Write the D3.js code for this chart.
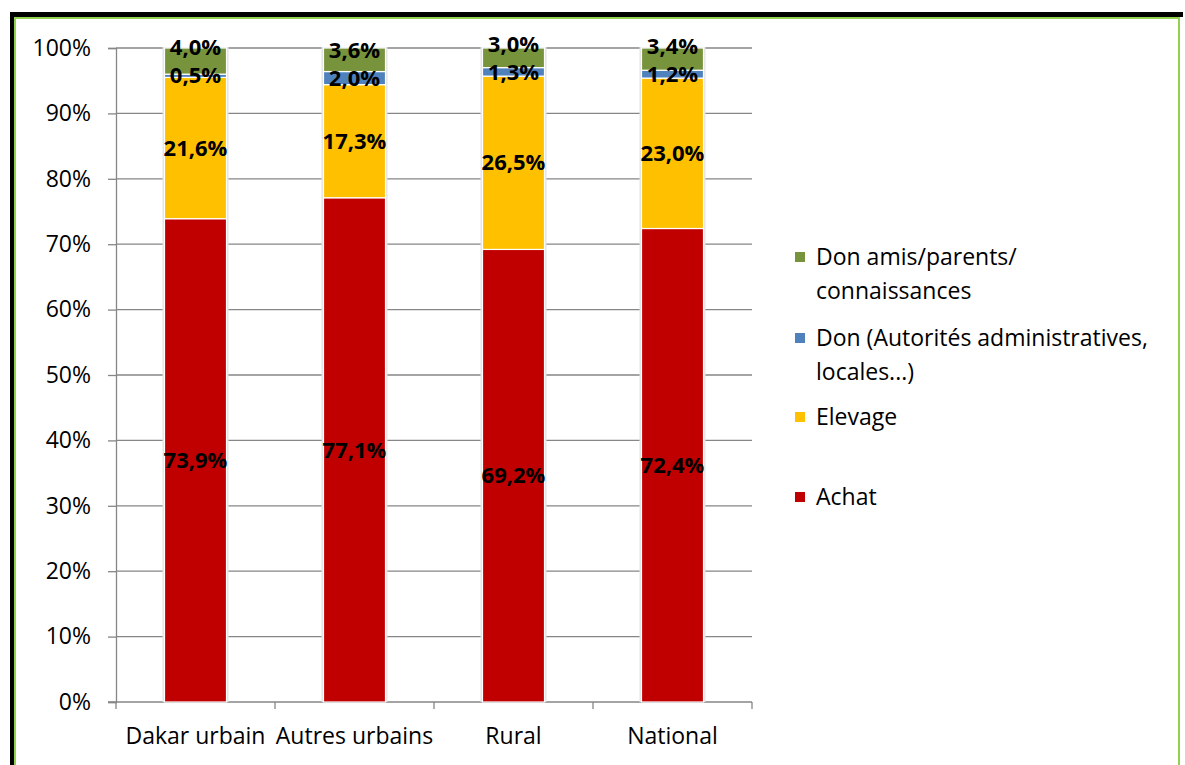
<!DOCTYPE html>
<html lang="fr">
<head>
<meta charset="utf-8">
<title>Origine</title>
<script src="https://d3js.org/d3.v7.min.js"></script>
<style>
  body { margin: 0; background: #fff; }
  text { font-family: "Open Sans", sans-serif; }
</style>
</head>
<body>
<div id="chart"></div>
<script>
var categories = ["Dakar urbain", "Autres urbains", "Rural", "National"]
var seriesNames = ["Achat", "Elevage", "Don (Autorités administratives, locales...)", "Don amis/parents/ connaissances"]
var achat = [73.9, 77.1, 69.2, 72.4]
var elevage = [21.6, 17.3, 26.5, 23.0]
var donAdmin = [0.5, 2.0, 1.3, 1.2]
var donAmis = [4.0, 3.6, 3.0, 3.4]
var yTicks = [0, 10, 20, 30, 40, 50, 60, 70, 80, 90, 100]
var legendLines = [["Don amis/parents/", "connaissances"], ["Don (Autorités administratives,", "locales...)"], ["Elevage"], ["Achat"]]

var colors = ["#C00000", "#FFC000", "#4F81BD", "#77933C"]
var w = 1185, h = 765

var svg = d3.select("#chart").append("svg")
  .attr("width", w).attr("height", h)

// frame
svg.append("rect").attr("x", 10).attr("y", 12).attr("width", 1173).attr("height", 5).attr("fill", "#000")
svg.append("rect").attr("x", 10).attr("y", 12).attr("width", 4).attr("height", h - 12).attr("fill", "#000")
svg.append("rect").attr("x", 14).attr("y", 17).attr("width", 1166).attr("height", 2).attr("fill", "#92D050")
svg.append("rect").attr("x", 14).attr("y", 17).attr("width", 2).attr("height", h - 17).attr("fill", "#92D050")
svg.append("rect").attr("x", 1178).attr("y", 17).attr("width", 2).attr("height", h - 17).attr("fill", "#92D050")

var plotL = 116, plotR = 752, plotT = 48, plotB = 702

var x = d3.scaleBand().domain(categories).range([plotL, plotR]).paddingInner(0).paddingOuter(0)
var y = d3.scaleLinear().domain([0, 100]).range([plotB, plotT])

// gridlines
svg.append("g").selectAll("line")
  .data(yTicks.filter(function(d){ return d > 0 }))
  .enter().append("line")
  .attr("x1", plotL).attr("x2", plotR)
  .attr("y1", function(d){ return y(d) }).attr("y2", function(d){ return y(d) })
  .attr("stroke", "#868686").attr("stroke-width", 1.3)

var yAxis = d3.axisLeft(y).tickValues(yTicks).tickSize(8).tickPadding(17)
  .tickFormat(function(d){ return d + "%" })
var gy = svg.append("g").attr("transform", "translate(" + plotL + ",0)").call(yAxis)
gy.select(".domain").attr("stroke", "#868686").attr("stroke-width", 1.3)
gy.selectAll(".tick line").attr("stroke", "#868686").attr("stroke-width", 1.3)
gy.selectAll("text").attr("font-size", 23).attr("fill", "#000")
  .style("font-family", "'Open Sans', sans-serif")

// x axis
svg.append("line").attr("x1", plotL - 8).attr("x2", plotR).attr("y1", plotB).attr("y2", plotB)
  .attr("stroke", "#868686").attr("stroke-width", 1.3)
var bounds = categories.map(function(c){ return x(c) }).concat([plotR])
svg.append("g").selectAll("line").data(bounds).enter().append("line")
  .attr("x1", function(d){ return d }).attr("x2", function(d){ return d })
  .attr("y1", plotB).attr("y2", plotB + 7)
  .attr("stroke", "#868686").attr("stroke-width", 1.3)
svg.append("g").selectAll("text").data(categories).enter().append("text")
  .attr("x", function(d){ return x(d) + x.bandwidth() / 2 })
  .attr("y", 744)
  .attr("text-anchor", "middle")
  .attr("font-size", 23)
  .text(function(d){ return d })

// stacked bars
var rows = categories.map(function(c, i){
  return { cat: c, s0: achat[i], s1: elevage[i], s2: donAdmin[i], s3: donAmis[i] }
})
var stack = d3.stack().keys(["s0", "s1", "s2", "s3"])
var layers = stack(rows)
var barW = 62

// halo behind each bar
svg.append("g").selectAll("rect").data(rows).enter().append("rect")
  .attr("x", function(d){ return x(d.cat) + x.bandwidth() / 2 - barW / 2 - 2 })
  .attr("y", y(100) - 1)
  .attr("width", barW + 4)
  .attr("height", plotB - y(100) + 1)
  .attr("fill", "#e4e4e4")

svg.append("g").selectAll("g").data(layers).enter().append("g")
  .attr("fill", function(d, i){ return colors[i] })
  .selectAll("rect").data(function(d){ return d }).enter().append("rect")
  .attr("x", function(d){ return x(d.data.cat) + x.bandwidth() / 2 - barW / 2 })
  .attr("y", function(d){ return y(d[1]) })
  .attr("width", barW)
  .attr("height", function(d){ return y(d[0]) - y(d[1]) })
  .attr("stroke", "#fff").attr("stroke-width", 1.2)

// labels
var fmt = function(v){ return v.toFixed(1).replace(".", ",") + "%" }
var labels = []
rows.forEach(function(r, i){
  var ys = layers.map(function(L){ return (y(L[i][0]) + y(L[i][1])) / 2 })
  // push top label up when it collides with the one under it
  ys[3] = Math.min(ys[3], ys[2] - 28)
  layers.forEach(function(L, k){
    labels.push({ cx: x(r.cat) + x.bandwidth() / 2, cy: ys[k], t: fmt(L[i][1] - L[i][0]) })
  })
})
svg.append("g").selectAll("text").data(labels).enter().append("text")
  .attr("x", function(d){ return d.cx })
  .attr("y", function(d){ return d.cy })
  .attr("dy", "0.35em")
  .attr("text-anchor", "middle")
  .attr("font-size", 22).attr("font-weight", "bold")
  .text(function(d){ return d.t })

// legend
var legendY = [257, 338, 417, 497]
var lg = svg.append("g").selectAll("g").data(legendLines).enter().append("g")
  .attr("transform", function(d, i){ return "translate(795," + legendY[i] + ")" })
lg.append("rect").attr("x", 0).attr("y", -5).attr("width", 10).attr("height", 10)
  .attr("fill", function(d, i){ return colors[3 - i] })
lg.selectAll("text").data(function(d){ return d }).enter().append("text")
  .attr("x", 21).attr("y", function(d, j){ return j * 34 })
  .attr("dy", "0.35em")
  .attr("font-size", 23)
  .text(function(d){ return d })
</script>
</body>
</html>
